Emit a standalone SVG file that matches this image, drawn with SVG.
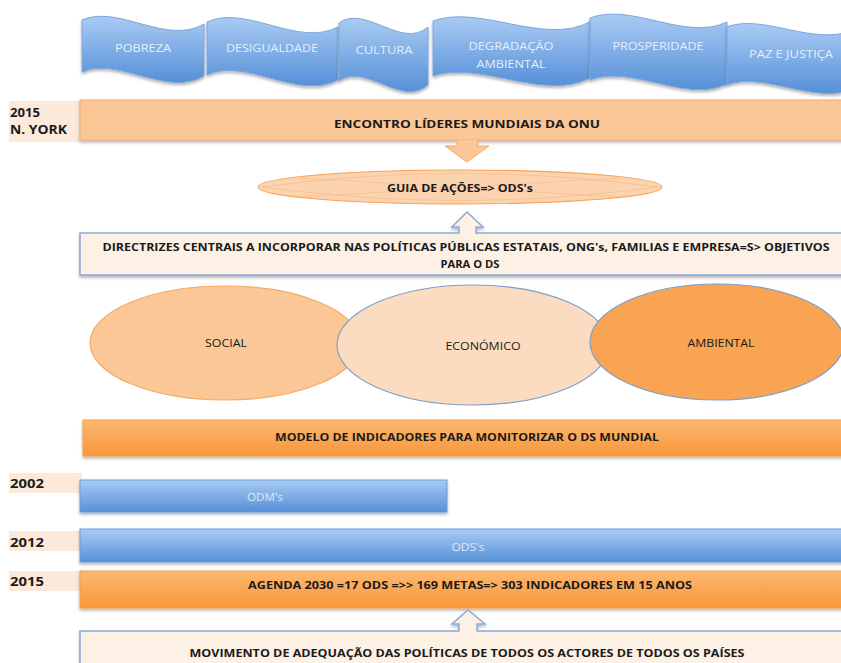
<svg xmlns="http://www.w3.org/2000/svg" width="841" height="663" viewBox="0 0 841 663">
  <defs>
    <linearGradient id="gBlue" x1="0" y1="0" x2="0" y2="1">
      <stop offset="0" stop-color="#a9cbf4"/>
      <stop offset="1" stop-color="#5690d8"/>
    </linearGradient>
    <linearGradient id="gOrange" x1="0" y1="0" x2="0" y2="1">
      <stop offset="0" stop-color="#fdb870"/>
      <stop offset="1" stop-color="#f8963a"/>
    </linearGradient>
    <filter id="shadow" x="-5%" y="-20%" width="110%" height="160%">
      <feDropShadow dx="0" dy="2" stdDeviation="1.5" flood-color="#000" flood-opacity="0.3"/>
    </filter>
  </defs>
  <style>
    text { font-family: "Open Sans", "Liberation Sans", sans-serif; }
    .wave { fill: url(#gBlue); stroke: #7ea6da; stroke-width: 1; filter: url(#shadow); }
    .wtxt { fill: #e4eefa; font-size: 11.5px; text-anchor: middle; }
    .lbl { fill: #fde9d9; }
    .year { fill: #1a1a1a; font-size: 12px; font-weight: bold; }
    .bold { fill: #1a1a1a; font-weight: bold; font-size: 11px; text-anchor: middle; }
    .reg { fill: #1a1a1a; font-size: 11px; text-anchor: middle; }
    .light { fill: #dbe7f7; font-size: 11px; text-anchor: middle; }
    .barO { fill: url(#gOrange); stroke: #f59d48; stroke-width: 1; filter: url(#shadow); }
    .barB { fill: url(#gBlue); stroke: #6a9bd9; stroke-width: 1; filter: url(#shadow); }
    .callout { fill: #fdf0e4; stroke: #8aabd6; stroke-width: 1.5; filter: url(#shadow); }
  </style>

  <!-- wave banners -->
  <g id="banners">
    <g id="pobreza">
      <path class="wave" d="M82,20 C118,4 167,46 204,24 L204,76 C167,98 118,56 82,72 Z"/>
      <text class="wtxt" x="143" y="52" textLength="56" lengthAdjust="spacingAndGlyphs">POBREZA</text>
    </g>
    <g id="desigualdade">
      <path class="wave" d="M207,22 C246,4 298,48 338,27 L338,80 C298,101 246,57 207,75 Z"/>
      <text class="wtxt" x="272" y="52" textLength="92" lengthAdjust="spacingAndGlyphs">DESIGUALDADE</text>
    </g>
    <g id="cultura">
      <path class="wave" d="M339,23 C365,4 402,50 428,27 L428,85 C402,108 365,62 339,81 Z"/>
      <text class="wtxt" x="384" y="54" textLength="57" lengthAdjust="spacingAndGlyphs">CULTURA</text>
    </g>
    <g id="degradacao">
      <path class="wave" d="M433,21 C480,4 543,46 590,22 L590,78 C543,102 480,60 433,76 Z"/>
      <text class="wtxt" x="511" y="50" textLength="85" lengthAdjust="spacingAndGlyphs">DEGRADAÇÃO</text>
      <text class="wtxt" x="511" y="68" textLength="69" lengthAdjust="spacingAndGlyphs">AMBIENTAL</text>
    </g>
    <g id="prosperidade">
      <path class="wave" d="M590,18 C631,2 686,42 727,22 L727,84 C686,104 631,64 590,80 Z"/>
      <text class="wtxt" x="658" y="50" textLength="91" lengthAdjust="spacingAndGlyphs">PROSPERIDADE</text>
    </g>
    <g id="paz">
      <path class="wave" d="M727,27 C760,14 805,42 845,33 L845,92 C805,100 760,72 727,85 Z"/>
      <text class="wtxt" x="791" y="58" textLength="84" lengthAdjust="spacingAndGlyphs">PAZ E JUSTIÇA</text>
    </g>
  </g>

  <!-- year labels -->
  <g id="labels">
    <rect class="lbl" x="9" y="101" width="72" height="41"/>
    <text class="year" x="10" y="117" textLength="30" lengthAdjust="spacingAndGlyphs">2015</text>
    <text class="year" x="10" y="134" textLength="57" lengthAdjust="spacingAndGlyphs">N. YORK</text>
    <rect class="lbl" x="9" y="473" width="73" height="20"/>
    <text class="year" x="10" y="488" textLength="34" lengthAdjust="spacingAndGlyphs">2002</text>
    <rect class="lbl" x="9" y="531" width="73" height="20"/>
    <text class="year" x="10" y="547" textLength="34" lengthAdjust="spacingAndGlyphs">2012</text>
    <rect class="lbl" x="9" y="571" width="73" height="20"/>
    <text class="year" x="10" y="586" textLength="34" lengthAdjust="spacingAndGlyphs">2015</text>
  </g>

  <!-- summit bar -->
  <g id="encontro">
    <rect x="80" y="100" width="765" height="40" fill="#fbc796" stroke="#f4a968" stroke-width="1" filter="url(#shadow)"/>
    <text class="bold" x="467" y="128" font-size="12" textLength="266" lengthAdjust="spacingAndGlyphs">ENCONTRO LÍDERES MUNDIAIS DA ONU</text>
  </g>

  <!-- connectors -->
  <g id="connectors">
    <path d="M457,140 L457,146 L445,146 L467,162 L489,146 L478,146 L478,140" fill="#fbc796" stroke="#f4a968" stroke-width="1"/>
  </g>

  <!-- action guide -->
  <g id="guia">
    <ellipse cx="460" cy="187" rx="202" ry="17" fill="#fcd3af" stroke="#f4a25a" stroke-width="1.2"/>
    <path d="M262,187 Q460,160 658,187 M262,187 Q460,214 658,187" fill="none" stroke="#f3b27a" stroke-width="0.7" opacity="0.7"/>
    <path d="M300,178 L620,197 M300,197 L620,178" fill="none" stroke="#f3b27a" stroke-width="0.7" opacity="0.6"/>
    <text class="bold" x="460" y="192" textLength="146" lengthAdjust="spacingAndGlyphs">GUIA DE AÇÕES=&gt; ODS's</text>
  </g>

  <!-- guidelines box with up arrow -->
  <g id="directrizes">
    <path class="callout" d="M80,233 L459,233 L459,227 L452,227 L467,212 L483,227 L476,227 L476,233 L845,233 L845,275 L80,275 Z"/>
    <text class="bold" x="466" y="251" textLength="727" lengthAdjust="spacingAndGlyphs">DIRECTRIZES CENTRAIS A INCORPORAR NAS POLÍTICAS PÚBLICAS ESTATAIS, ONG's, FAMILIAS E EMPRESA=S&gt; OBJETIVOS</text>
    <text class="bold" x="470" y="268" textLength="59" lengthAdjust="spacingAndGlyphs">PARA O DS</text>
  </g>

  <!-- three pillars -->
  <g id="social">
    <ellipse cx="225" cy="343" rx="135" ry="57" fill="#fbc796" stroke="#f5aa66" stroke-width="1.2"/>
    <text class="reg" x="226" y="347" textLength="42" lengthAdjust="spacingAndGlyphs">SOCIAL</text>
  </g>
  <g id="economico">
    <ellipse cx="473" cy="345" rx="136" ry="60" fill="#fcdcc0" stroke="#7f9ec9" stroke-width="1.2"/>
    <text class="reg" x="483" y="350" textLength="75" lengthAdjust="spacingAndGlyphs">ECONÓMICO</text>
  </g>
  <g id="ambiental">
    <ellipse cx="717" cy="342" rx="127" ry="58" fill="#f8a452" stroke="#7f9ec9" stroke-width="1.2"/>
    <text class="reg" x="721" y="347" textLength="67" lengthAdjust="spacingAndGlyphs">AMBIENTAL</text>
  </g>

  <!-- indicators model -->
  <g id="modelo">
    <rect class="barO" x="83" y="420" width="762" height="36"/>
    <text class="bold" x="467" y="441" textLength="384" lengthAdjust="spacingAndGlyphs">MODELO DE INDICADORES PARA MONITORIZAR O DS MUNDIAL</text>
  </g>

  <!-- timeline -->
  <g id="odm">
    <rect class="barB" x="80" y="480" width="367" height="32"/>
    <text class="light" x="265" y="501" textLength="36" lengthAdjust="spacingAndGlyphs">ODM's</text>
  </g>
  <g id="ods">
    <rect class="barB" x="80" y="529" width="765" height="33"/>
    <text class="light" x="468" y="551" textLength="33" lengthAdjust="spacingAndGlyphs">ODS's</text>
  </g>
  <g id="agenda">
    <rect class="barO" x="80" y="571" width="765" height="37"/>
    <text class="bold" x="470" y="589" textLength="444" lengthAdjust="spacingAndGlyphs">AGENDA 2030 =17 ODS =&gt;&gt; 169 METAS=&gt; 303 INDICADORES EM 15 ANOS</text>
  </g>

  <!-- adaptation movement box with up arrow -->
  <g id="movimento">
    <path class="callout" d="M80,631 L459,631 L459,624 L452,624 L468,610 L485,624 L477,624 L477,631 L845,631 L845,670 L80,670 Z"/>
    <text class="bold" x="467" y="657" textLength="555" lengthAdjust="spacingAndGlyphs">MOVIMENTO DE ADEQUAÇÃO DAS POLÍTICAS DE TODOS OS ACTORES DE TODOS OS PAÍSES</text>
  </g>
</svg>
